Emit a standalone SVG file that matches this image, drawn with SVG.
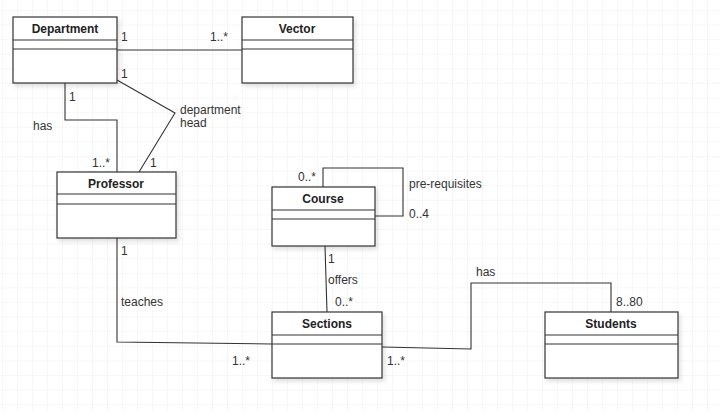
<svg xmlns="http://www.w3.org/2000/svg" width="720" height="411" viewBox="0 0 720 411">
<defs>
<pattern id="grid" x="2" y="10" width="15" height="14.6" patternUnits="userSpaceOnUse">
<path d="M0 0 H15 M0 0 V14.6" fill="none" stroke="#efefef" stroke-width="1"/>
</pattern>
<filter id="sh" x="-10%" y="-10%" width="130%" height="130%">
<feDropShadow dx="2" dy="3" stdDeviation="2" flood-color="#000" flood-opacity="0.12"/>
</filter>
</defs>
<style>
.box{fill:#fff;stroke:#333;stroke-width:1.2;filter:url(#sh)}
.sep{stroke:#333;stroke-width:1.2}
.title{font-family:"Liberation Sans",Arial,sans-serif;font-size:12px;font-weight:bold;fill:#222;text-anchor:middle}
.lbl{font-family:"Liberation Sans",Arial,sans-serif;font-size:12px;fill:#333}
.conn{fill:none;stroke:#333;stroke-width:1.1}
</style>
<rect width="720" height="411" fill="#fff"/>
<rect width="720" height="411" fill="url(#grid)"/>

<g id="connectors">
<path class="conn" d="M117 50 H242"/>
<path class="conn" d="M65 83 V120 H117 V172"/>
<path class="conn" d="M117 80 L175 113 L139 172"/>
<path class="conn" d="M117 238 V342 L272 344"/>
<path class="conn" d="M323 187 V168 H403 V216 H375"/>
<path class="conn" d="M325 246 L327 312"/>
<path class="conn" d="M382 347 L471 349 V283 H611 V312"/>
<text class="lbl" x="121" y="41">1</text>
<text class="lbl" x="210" y="41">1..*</text>
<text class="lbl" x="121" y="78">1</text>
<text class="lbl" x="69" y="101">1</text>
<text class="lbl" x="33" y="130">has</text>
<text class="lbl" x="92" y="167">1..*</text>
<text class="lbl" x="180" y="114">department</text>
<text class="lbl" x="180" y="127">head</text>
<text class="lbl" x="150" y="167">1</text>
<text class="lbl" x="121" y="255">1</text>
<text class="lbl" x="121" y="306">teaches</text>
<text class="lbl" x="232" y="365">1..*</text>
<text class="lbl" x="298" y="181">0..*</text>
<text class="lbl" x="409" y="188">pre-requisites</text>
<text class="lbl" x="409" y="218">0..4</text>
<text class="lbl" x="328" y="263">1</text>
<text class="lbl" x="328" y="284">offers</text>
<text class="lbl" x="335" y="306">0..*</text>
<text class="lbl" x="476" y="276">has</text>
<text class="lbl" x="616" y="306">8..80</text>
<text class="lbl" x="387" y="365">1..*</text>
</g>

<g id="department">
<rect class="box" x="13" y="17" width="104" height="66"/>
<line class="sep" x1="13" y1="40" x2="117" y2="40"/>
<line class="sep" x1="13" y1="49" x2="117" y2="49"/>
<text class="title" x="65" y="33">Department</text>
</g>
<g id="vector">
<rect class="box" x="242" y="17" width="111" height="66"/>
<line class="sep" x1="242" y1="40" x2="353" y2="40"/>
<line class="sep" x1="242" y1="49" x2="353" y2="49"/>
<text class="title" x="297" y="33">Vector</text>
</g>
<g id="professor">
<rect class="box" x="57" y="172" width="119" height="66"/>
<line class="sep" x1="57" y1="194" x2="176" y2="194"/>
<line class="sep" x1="57" y1="204" x2="176" y2="204"/>
<text class="title" x="116" y="188">Professor</text>
</g>
<g id="course">
<rect class="box" x="272" y="187" width="103" height="59"/>
<line class="sep" x1="272" y1="210" x2="375" y2="210"/>
<line class="sep" x1="272" y1="219" x2="375" y2="219"/>
<text class="title" x="323" y="203">Course</text>
</g>
<g id="sections">
<rect class="box" x="272" y="312" width="110" height="66"/>
<line class="sep" x1="272" y1="335" x2="382" y2="335"/>
<line class="sep" x1="272" y1="344" x2="382" y2="344"/>
<text class="title" x="327" y="328">Sections</text>
</g>
<g id="students">
<rect class="box" x="545" y="312" width="133" height="66"/>
<line class="sep" x1="545" y1="335" x2="678" y2="335"/>
<line class="sep" x1="545" y1="344" x2="678" y2="344"/>
<text class="title" x="611" y="328">Students</text>
</g>
</svg>
